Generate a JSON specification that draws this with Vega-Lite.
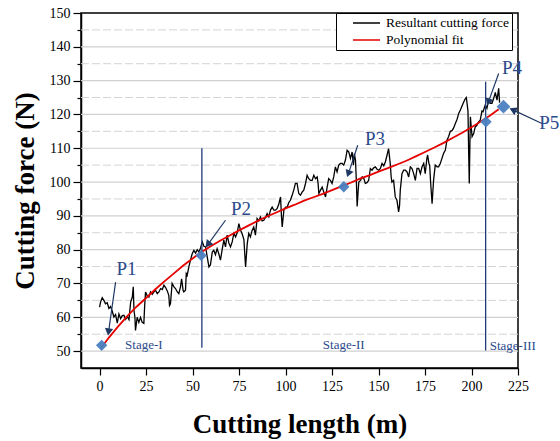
{
 "$schema": "https://vega.github.io/schema/vega-lite/v6.json",
 "width": 437,
 "height": 355,
 "autosize": "none",
 "padding": {"left": 81, "top": 13, "right": 42, "bottom": 73},
 "background": "white",
 "config": {
  "view": {"stroke": "#000", "strokeWidth": 1.5},
  "font": "Liberation Serif",
  "axis": {"labelFont": "Liberation Serif", "titleFont": "Liberation Serif", "labelColor": "#000", "titleColor": "#000", "domainColor": "#000", "domainWidth": 1.5, "tickColor": "#000", "tickWidth": 1.2, "labelFontSize": 14, "titleFontSize": 27, "titleFontWeight": "bold", "grid": false},
  "legend": {"orient": "none", "legendX": 255, "legendY": 0, "symbolType": "stroke", "symbolSize": 729, "symbolStrokeWidth": 1.5, "labelFont": "Liberation Serif", "labelFontSize": 13.5, "labelColor": "#000", "padding": 3, "rowPadding": 3, "clipHeight": 14, "strokeColor": "#000", "fillColor": "#fff", "symbolOffset": 13, "labelOffset": 5}
 },
 "datasets": {
  "force": [
   {"length_m":0,"force_N":63},{"length_m":0.5,"force_N":64.5},{"length_m":1.4,"force_N":65.8},{"length_m":2.3,"force_N":65},{"length_m":3.2,"force_N":64},{"length_m":4.1,"force_N":64.3},{"length_m":5,"force_N":62.6},{"length_m":5.9,"force_N":63.2},{"length_m":6.8,"force_N":61.8},{"length_m":7.7,"force_N":60.1},{"length_m":8.6,"force_N":60.8},{"length_m":9.5,"force_N":58.3},{"length_m":10.4,"force_N":61},{"length_m":11.3,"force_N":59.6},{"length_m":12.2,"force_N":60.5},{"length_m":13.1,"force_N":60.6},{"length_m":14,"force_N":59.4},{"length_m":14.9,"force_N":60.2},{"length_m":15.8,"force_N":59.3},{"length_m":16.7,"force_N":64.5},{"length_m":17.6,"force_N":66},{"length_m":18.1,"force_N":69},{"length_m":18.5,"force_N":62},{"length_m":19,"force_N":60},{"length_m":19.3,"force_N":56.1},{"length_m":20.2,"force_N":60},{"length_m":21.1,"force_N":58.5},{"length_m":22,"force_N":60},{"length_m":22.9,"force_N":58.5},{"length_m":23.8,"force_N":58.2},{"length_m":24.2,"force_N":63},{"length_m":24.7,"force_N":67.5},{"length_m":25.5,"force_N":66.5},{"length_m":26.5,"force_N":66},{"length_m":27.4,"force_N":67.5},{"length_m":28.3,"force_N":66.8},{"length_m":29.2,"force_N":67.5},{"length_m":30.1,"force_N":68},{"length_m":31,"force_N":67},{"length_m":31.9,"force_N":67.5},{"length_m":32.8,"force_N":68.5},{"length_m":33.7,"force_N":68.2},{"length_m":34.6,"force_N":69.5},{"length_m":35.5,"force_N":68.8},{"length_m":36.4,"force_N":67.8},{"length_m":37.2,"force_N":66.5},{"length_m":37.6,"force_N":63.5},{"length_m":38.1,"force_N":64},{"length_m":39,"force_N":70},{"length_m":40,"force_N":69},{"length_m":40.8,"force_N":68.5},{"length_m":41.8,"force_N":67.5},{"length_m":42.6,"force_N":67},{"length_m":43.5,"force_N":69},{"length_m":44.1,"force_N":71.4},{"length_m":44.9,"force_N":68},{"length_m":45.3,"force_N":67.5},{"length_m":46.2,"force_N":68},{"length_m":46.6,"force_N":72.9},{"length_m":47.1,"force_N":72.4},{"length_m":48,"force_N":74.9},{"length_m":48.9,"force_N":77},{"length_m":49.8,"force_N":78.8},{"length_m":50.7,"force_N":79.8},{"length_m":51.6,"force_N":79},{"length_m":52.5,"force_N":80},{"length_m":53.4,"force_N":79.3},{"length_m":54.3,"force_N":80.5},{"length_m":55.2,"force_N":82.3},{"length_m":56.1,"force_N":81},{"length_m":57,"force_N":80.8},{"length_m":57.9,"force_N":77.8},{"length_m":58.8,"force_N":74.9},{"length_m":59.6,"force_N":75.5},{"length_m":60.6,"force_N":79.3},{"length_m":61.4,"force_N":79.8},{"length_m":62.3,"force_N":78.5},{"length_m":63.2,"force_N":80.3},{"length_m":64.1,"force_N":78.8},{"length_m":65,"force_N":76.9},{"length_m":65.9,"force_N":80},{"length_m":66.8,"force_N":82.8},{"length_m":67.7,"force_N":80.8},{"length_m":68.6,"force_N":84.3},{"length_m":69.5,"force_N":82},{"length_m":70.4,"force_N":80.8},{"length_m":71.3,"force_N":82.3},{"length_m":72.2,"force_N":84.8},{"length_m":73.1,"force_N":83.8},{"length_m":74,"force_N":85},{"length_m":74.9,"force_N":87.7},{"length_m":75.8,"force_N":85.7},{"length_m":76.6,"force_N":84.8},{"length_m":77.6,"force_N":83},{"length_m":78.5,"force_N":74.9},{"length_m":79.4,"force_N":81.8},{"length_m":80.2,"force_N":84.8},{"length_m":81.1,"force_N":83.8},{"length_m":82,"force_N":85.7},{"length_m":82.9,"force_N":86.7},{"length_m":83.8,"force_N":84.3},{"length_m":84.7,"force_N":89.2},{"length_m":85.6,"force_N":88.5},{"length_m":86.5,"force_N":89.7},{"length_m":87.4,"force_N":88.5},{"length_m":88.3,"force_N":88.7},{"length_m":89.2,"force_N":89.5},{"length_m":90.1,"force_N":90.7},{"length_m":91,"force_N":89.7},{"length_m":91.9,"force_N":91.7},{"length_m":92.8,"force_N":92.6},{"length_m":93.7,"force_N":91.7},{"length_m":94.6,"force_N":91.7},{"length_m":95.5,"force_N":92.2},{"length_m":96.4,"force_N":93.5},{"length_m":97.3,"force_N":95.6},{"length_m":97.8,"force_N":90},{"length_m":98.2,"force_N":86.7},{"length_m":99.1,"force_N":91.7},{"length_m":100,"force_N":92.6},{"length_m":100.9,"force_N":92.6},{"length_m":101.8,"force_N":94},{"length_m":102.6,"force_N":94.6},{"length_m":103.5,"force_N":96},{"length_m":104.4,"force_N":97.6},{"length_m":105.3,"force_N":99.6},{"length_m":106.2,"force_N":99.6},{"length_m":107.1,"force_N":96.6},{"length_m":108,"force_N":96.1},{"length_m":108.9,"force_N":97},{"length_m":109.8,"force_N":97.6},{"length_m":110.7,"force_N":99.5},{"length_m":111.6,"force_N":102},{"length_m":112.5,"force_N":101},{"length_m":113.4,"force_N":100.5},{"length_m":114.3,"force_N":100.5},{"length_m":115.2,"force_N":102},{"length_m":116.1,"force_N":101},{"length_m":117,"force_N":101.5},{"length_m":117.5,"force_N":99.6},{"length_m":117.9,"force_N":96.6},{"length_m":118.8,"force_N":97.6},{"length_m":119.7,"force_N":98.5},{"length_m":120.6,"force_N":97},{"length_m":121.5,"force_N":95.6},{"length_m":122.4,"force_N":98.6},{"length_m":123.2,"force_N":101},{"length_m":124.1,"force_N":100.5},{"length_m":125,"force_N":99.6},{"length_m":125.9,"force_N":101.5},{"length_m":126.8,"force_N":104.5},{"length_m":127.7,"force_N":103},{"length_m":128.6,"force_N":105},{"length_m":129.5,"force_N":105.5},{"length_m":130.4,"force_N":105.5},{"length_m":131.3,"force_N":105},{"length_m":132.2,"force_N":106.5},{"length_m":133.1,"force_N":109.4},{"length_m":134,"force_N":108.9},{"length_m":134.9,"force_N":107},{"length_m":135.8,"force_N":108.9},{"length_m":136.5,"force_N":105},{"length_m":137,"force_N":108.4},{"length_m":137.6,"force_N":106.5},{"length_m":138.1,"force_N":100},{"length_m":138.5,"force_N":92.8},{"length_m":139,"force_N":97},{"length_m":139.4,"force_N":100},{"length_m":140.3,"force_N":100.5},{"length_m":141.2,"force_N":101.5},{"length_m":142.1,"force_N":101},{"length_m":142.9,"force_N":99.6},{"length_m":143.8,"force_N":99.8},{"length_m":144.7,"force_N":100.5},{"length_m":145.6,"force_N":104},{"length_m":146.5,"force_N":103.5},{"length_m":147.4,"force_N":104.2},{"length_m":148.3,"force_N":104.5},{"length_m":149.2,"force_N":103.8},{"length_m":150.1,"force_N":103.5},{"length_m":151,"force_N":104},{"length_m":151.9,"force_N":105.5},{"length_m":152.8,"force_N":104.8},{"length_m":153.7,"force_N":106},{"length_m":154.6,"force_N":108},{"length_m":155.4,"force_N":109.9},{"length_m":156.3,"force_N":105.5},{"length_m":156.8,"force_N":101.5},{"length_m":157.2,"force_N":100},{"length_m":158.1,"force_N":100.5},{"length_m":159,"force_N":95.6},{"length_m":159.9,"force_N":94.6},{"length_m":160.8,"force_N":91.2},{"length_m":161.3,"force_N":93},{"length_m":161.7,"force_N":97.6},{"length_m":162.6,"force_N":102.5},{"length_m":163.5,"force_N":103.5},{"length_m":164.4,"force_N":103.5},{"length_m":165.3,"force_N":103},{"length_m":166.2,"force_N":101.5},{"length_m":167.1,"force_N":104.5},{"length_m":168,"force_N":104},{"length_m":168.9,"force_N":102.5},{"length_m":169.8,"force_N":100.5},{"length_m":170.7,"force_N":104},{"length_m":171.6,"force_N":104},{"length_m":172.5,"force_N":102.5},{"length_m":173.4,"force_N":104.5},{"length_m":174.3,"force_N":105.5},{"length_m":175.1,"force_N":102.5},{"length_m":176,"force_N":107},{"length_m":176.4,"force_N":108},{"length_m":177.1,"force_N":105.5},{"length_m":177.5,"force_N":105},{"length_m":178,"force_N":100},{"length_m":178.8,"force_N":93.6},{"length_m":179.6,"force_N":100.5},{"length_m":180.5,"force_N":105},{"length_m":181.5,"force_N":104.5},{"length_m":182.3,"force_N":104.5},{"length_m":183.2,"force_N":105.5},{"length_m":184.1,"force_N":107},{"length_m":185,"force_N":108.5},{"length_m":185.9,"force_N":109.4},{"length_m":186.8,"force_N":112.4},{"length_m":187.7,"force_N":113.5},{"length_m":188.6,"force_N":115},{"length_m":189.5,"force_N":115.2},{"length_m":190.4,"force_N":116},{"length_m":191.3,"force_N":117.3},{"length_m":192.2,"force_N":118.5},{"length_m":193.1,"force_N":120.3},{"length_m":194,"force_N":121.3},{"length_m":194.9,"force_N":122.5},{"length_m":195.8,"force_N":123.7},{"length_m":196.7,"force_N":124.7},{"length_m":197.2,"force_N":125},{"length_m":197.6,"force_N":123.3},{"length_m":198.1,"force_N":121},{"length_m":198.5,"force_N":108},{"length_m":198.8,"force_N":99.6},{"length_m":199.1,"force_N":110},{"length_m":199.4,"force_N":119.3},{"length_m":200.3,"force_N":113.4},{"length_m":201.2,"force_N":114.4},{"length_m":202,"force_N":116.3},{"length_m":202.9,"force_N":116.8},{"length_m":203.8,"force_N":117.8},{"length_m":204.7,"force_N":118.3},{"length_m":205.6,"force_N":121},{"length_m":206.2,"force_N":120.8},{"length_m":207.4,"force_N":122.8},{"length_m":208.3,"force_N":121.8},{"length_m":209.2,"force_N":124.2},{"length_m":210.1,"force_N":123.3},{"length_m":211,"force_N":123.3},{"length_m":211.9,"force_N":124.7},{"length_m":212.8,"force_N":126.5},{"length_m":213.7,"force_N":124.2},{"length_m":214.6,"force_N":127.7},{"length_m":215.1,"force_N":123.5}
  ],
  "fit": [
   {"length_m":0.5,"force_N":50.7},{"length_m":5,"force_N":54},{"length_m":10,"force_N":57.3},{"length_m":15,"force_N":60.4},{"length_m":20,"force_N":63.2},{"length_m":25,"force_N":65.7},{"length_m":30,"force_N":68.3},{"length_m":35,"force_N":70.7},{"length_m":40,"force_N":73},{"length_m":45,"force_N":75.3},{"length_m":50,"force_N":77.4},{"length_m":55,"force_N":79.4},{"length_m":60,"force_N":81.1},{"length_m":65,"force_N":82.7},{"length_m":70,"force_N":84.2},{"length_m":75,"force_N":85.7},{"length_m":80,"force_N":87.1},{"length_m":85,"force_N":88.5},{"length_m":90,"force_N":89.8},{"length_m":95,"force_N":91},{"length_m":100,"force_N":92.2},{"length_m":105,"force_N":93.3},{"length_m":110,"force_N":94.5},{"length_m":115,"force_N":95.5},{"length_m":120,"force_N":96.5},{"length_m":125,"force_N":97.6},{"length_m":130,"force_N":98.7},{"length_m":135,"force_N":99.8},{"length_m":140,"force_N":101},{"length_m":145,"force_N":102},{"length_m":150,"force_N":103.1},{"length_m":155,"force_N":104.1},{"length_m":160,"force_N":105.2},{"length_m":165,"force_N":106.3},{"length_m":170,"force_N":107.6},{"length_m":175,"force_N":108.9},{"length_m":180,"force_N":110.2},{"length_m":185,"force_N":111.6},{"length_m":190,"force_N":113.1},{"length_m":195,"force_N":114.6},{"length_m":200,"force_N":116.2},{"length_m":205,"force_N":117.9},{"length_m":210,"force_N":119.7},{"length_m":214.6,"force_N":121.5}
  ],
  "majorGrid": [{"force_N":50},{"force_N":60},{"force_N":70},{"force_N":80},{"force_N":90},{"force_N":100},{"force_N":110},{"force_N":120},{"force_N":130},{"force_N":140}],
  "minorGrid": [{"force_N":55},{"force_N":65},{"force_N":75},{"force_N":85},{"force_N":95},{"force_N":105},{"force_N":115},{"force_N":125},{"force_N":135},{"force_N":145}],
  "stages": [
   {"length_m":55,"force_N":51,"force_end":110},
   {"length_m":207.6,"force_N":50.2,"force_end":129.7}
  ],
  "stageLabels": [
   {"length_m":23.8,"force_N":51.7,"label":"Stage-I"},
   {"length_m":131.3,"force_N":51.7,"label":"Stage-II"},
   {"length_m":222.2,"force_N":51.4,"label":"Stage-III"}
  ],
  "points": [
   {"point":"P1","length_m":1.1,"force_N":51.7},
   {"point":"P2","length_m":54.6,"force_N":78.3},
   {"point":"P3","length_m":131.3,"force_N":98.6},
   {"point":"P4","length_m":207.8,"force_N":117.8},
   {"point":"P5","length_m":217.2,"force_N":122.3}
  ],
  "pointLabels": [
   {"point":"P1","length_m":14.5,"force_N":74.2},
   {"point":"P2","length_m":76,"force_N":91.9},
   {"point":"P3","length_m":148.1,"force_N":112.6},
   {"point":"P4","length_m":221.8,"force_N":133.6},
   {"point":"P5","length_m":241.8,"force_N":117.6}
  ],
  "arrows": [
   {"point":"P1","length_m":8.6,"force_N":70.4,"length_end":4.9,"force_end":56},
   {"point":"P2","length_m":67.7,"force_N":88.7,"length_end":58.6,"force_end":81.8},
   {"point":"P3","length_m":138.8,"force_N":110.9,"length_end":134,"force_end":102.8},
   {"point":"P4","length_m":214.6,"force_N":132.1,"length_end":209.3,"force_end":124},
   {"point":"P5","length_m":237.9,"force_N":117.3,"length_end":222.8,"force_end":121.2}
  ]
 },
 "encoding": {
  "y": {"field": "force_N", "type": "quantitative", "scale": {"domain": [45, 150], "nice": false, "zero": false},
   "axis": {"title": "Cutting force (N)", "values": [50,55,60,65,70,75,80,85,90,95,100,105,110,115,120,125,130,135,140,145,150], "labelExpr": "datum.value % 10 === 0 ? datum.label : ''", "grid": false, "tickSize": {"condition": {"test": "datum.value % 10 === 0", "value": 8}, "value": 4}, "labelFont": "Liberation Serif", "labelFontSize": 14, "labelPadding": 3, "titlePadding": 10, "labelFlush": false, "labelOverlap": false}}
 },
 "layer": [
  {"data": {"name": "majorGrid"}, "mark": {"type": "rule", "color": "#d0d0d0", "strokeWidth": 1.2}, "encoding": {}},
  {"data": {"name": "minorGrid"}, "mark": {"type": "rule", "color": "#d4d4d4", "strokeWidth": 1, "strokeDash": [8, 3]}, "encoding": {}},
  {"data": {"name": "force"}, "mark": {"type": "line", "strokeWidth": 1.3, "clip": true},
   "encoding": {
    "x": {"field": "length_m", "type": "quantitative", "scale": {"domain": [-10, 225], "nice": false, "zero": false},
     "axis": {"title": "Cutting length (m)", "values": [0,12.5,25,37.5,50,62.5,75,87.5,100,112.5,125,137.5,150,162.5,175,187.5,200,212.5,225], "labelExpr": "datum.value % 25 === 0 ? datum.label : ''", "grid": false, "tickSize": {"condition": {"test": "datum.value % 25 === 0", "value": 7}, "value": 4}, "labelFont": "Liberation Serif", "labelFontSize": 14, "labelPadding": 4, "titlePadding": 18, "labelFlush": false, "labelOverlap": false}},
    "color": {"datum": "Resultant cutting force", "type": "nominal", "scale": {"domain": ["Resultant cutting force", "Polynomial fit"], "range": ["#000000", "#e60000"]}, "legend": {"title": null}}}},
  {"data": {"name": "fit"}, "mark": {"type": "line", "strokeWidth": 1.8, "clip": true},
   "encoding": {"x": {"field": "length_m", "type": "quantitative"}, "color": {"datum": "Polynomial fit", "type": "nominal"}}},
  {"data": {"name": "stages"}, "mark": {"type": "rule", "color": "#1f3a78", "strokeWidth": 1.3},
   "encoding": {"x": {"field": "length_m", "type": "quantitative"}, "y2": {"field": "force_end"}}},
  {"data": {"name": "stageLabels"}, "mark": {"type": "text", "font": "Liberation Serif", "fontSize": 13, "color": "#2b4a8b", "align": "center", "baseline": "middle"},
   "encoding": {"x": {"field": "length_m", "type": "quantitative"}, "text": {"field": "label"}}},
  {"data": {"name": "arrows"}, "mark": {"type": "rule", "color": "#1f3864", "strokeWidth": 1.2},
   "encoding": {"x": {"field": "length_m", "type": "quantitative", "scale": {"domain": [-10, 225], "nice": false, "zero": false}}, "x2": {"field": "length_end"}, "y2": {"field": "force_end"}}},
  {"data": {"name": "arrows"}, "transform": [{"filter": "datum.point === 'P1'"}], "mark": {"type": "point", "shape": "triangle", "angle": 188, "size": 70, "filled": true, "color": "#1f3864", "opacity": 1},
   "encoding": {"x": {"field": "length_end", "type": "quantitative"}, "y": {"field": "force_end", "type": "quantitative"}}},
  {"data": {"name": "arrows"}, "transform": [{"filter": "datum.point === 'P2'"}], "mark": {"type": "point", "shape": "triangle", "angle": 218, "size": 70, "filled": true, "color": "#1f3864", "opacity": 1},
   "encoding": {"x": {"field": "length_end", "type": "quantitative"}, "y": {"field": "force_end", "type": "quantitative"}}},
  {"data": {"name": "arrows"}, "transform": [{"filter": "datum.point === 'P3'"}], "mark": {"type": "point", "shape": "triangle", "angle": 200, "size": 70, "filled": true, "color": "#1f3864", "opacity": 1},
   "encoding": {"x": {"field": "length_end", "type": "quantitative"}, "y": {"field": "force_end", "type": "quantitative"}}},
  {"data": {"name": "arrows"}, "transform": [{"filter": "datum.point === 'P4'"}], "mark": {"type": "point", "shape": "triangle", "angle": 200, "size": 70, "filled": true, "color": "#1f3864", "opacity": 1},
   "encoding": {"x": {"field": "length_end", "type": "quantitative"}, "y": {"field": "force_end", "type": "quantitative"}}},
  {"data": {"name": "arrows"}, "transform": [{"filter": "datum.point === 'P5'"}], "mark": {"type": "point", "shape": "triangle", "angle": 295, "size": 70, "filled": true, "color": "#1f3864", "opacity": 1},
   "encoding": {"x": {"field": "length_end", "type": "quantitative"}, "y": {"field": "force_end", "type": "quantitative"}}},
  {"data": {"name": "points"}, "transform": [{"filter": "datum.point !== 'P5'"}], "mark": {"type": "point", "shape": "diamond", "size": 130, "filled": true, "color": "#4a7fc0", "opacity": 0.95},
   "encoding": {"x": {"field": "length_m", "type": "quantitative"}}},
  {"data": {"name": "points"}, "transform": [{"filter": "datum.point === 'P5'"}], "mark": {"type": "point", "shape": "diamond", "size": 190, "filled": true, "color": "#4a7fc0", "opacity": 0.95},
   "encoding": {"x": {"field": "length_m", "type": "quantitative"}}},
  {"data": {"name": "pointLabels"}, "mark": {"type": "text", "font": "Liberation Serif", "fontSize": 19, "color": "#2b4a8b", "align": "center", "baseline": "middle"},
   "encoding": {"x": {"field": "length_m", "type": "quantitative", "scale": {"domain": [-10, 225], "nice": false, "zero": false}}, "text": {"field": "point"}}}
 ]
}
